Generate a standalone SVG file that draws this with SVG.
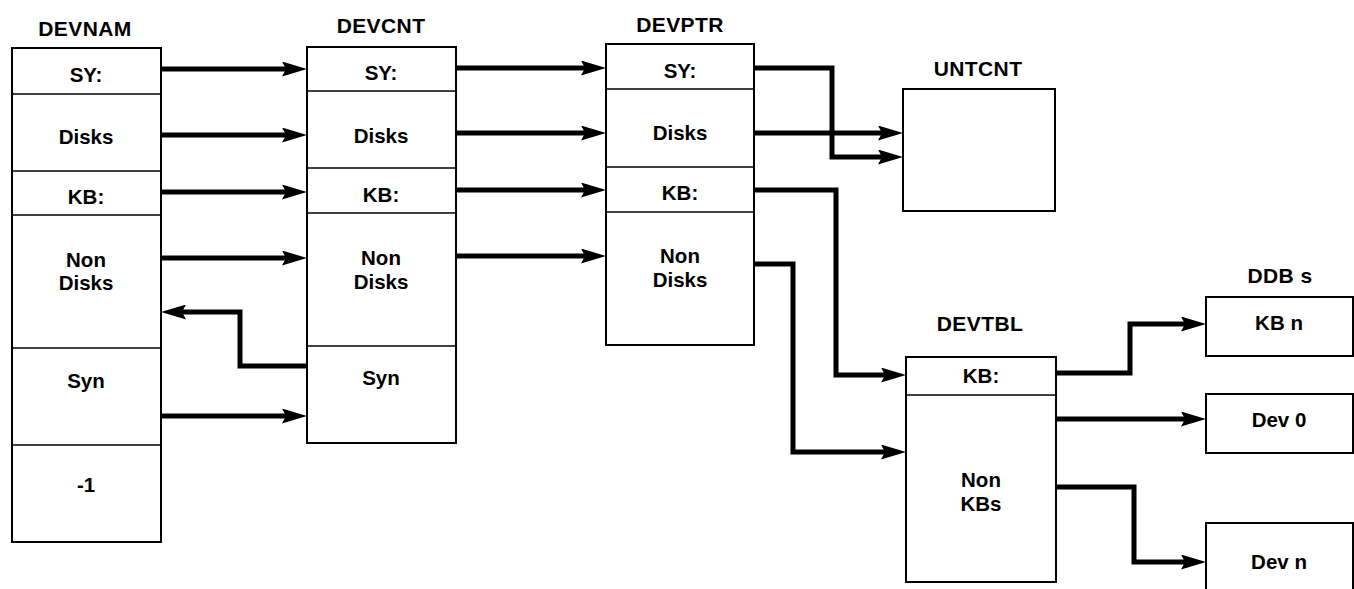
<svg xmlns="http://www.w3.org/2000/svg" width="1354" height="589" viewBox="0 0 1354 589">
  <style>
    .box { fill: #fff; stroke: #000; stroke-width: 2; }
    .sep { stroke: #000; stroke-width: 1.6; }
    .t { font-family: "Liberation Sans", Arial, Helvetica, sans-serif; font-weight: bold; font-size: 20.5px; fill: #000; text-anchor: middle; }
    .title { font-family: "Liberation Sans", Arial, Helvetica, sans-serif; font-weight: bold; font-size: 21px; fill: #000; text-anchor: middle; letter-spacing: 0.4px; }
    .link { fill: none; stroke: #000; stroke-width: 5; stroke-linejoin: miter; marker-end: url(#arrow); }
  </style>
  <defs>
    <marker id="arrow" markerUnits="userSpaceOnUse" viewBox="0 0 25 15" markerWidth="25" markerHeight="15" refX="13" refY="7.5" orient="auto">
      <path d="M0,0 L25,7.5 L0,15 L4,7.5 z" fill="#000"/>
    </marker>
  </defs>
  <rect width="1354" height="589" fill="#fff"/>

  <!-- DEVNAM table -->
  <g id="devnam">
    <text class="title" x="85" y="36">DEVNAM</text>
    <rect class="box" x="12" y="48" width="149" height="494"/>
    <line class="sep" x1="12" y1="94" x2="161" y2="94"/>
    <line class="sep" x1="12" y1="171" x2="161" y2="171"/>
    <line class="sep" x1="12" y1="215" x2="161" y2="215"/>
    <line class="sep" x1="12" y1="348" x2="161" y2="348"/>
    <line class="sep" x1="12" y1="445" x2="161" y2="445"/>
    <text class="t" x="86" y="82">SY:</text>
    <text class="t" x="86" y="144">Disks</text>
    <text class="t" x="86" y="204">KB:</text>
    <text class="t" x="86" y="267">Non</text>
    <text class="t" x="86" y="290">Disks</text>
    <text class="t" x="86" y="388">Syn</text>
    <text class="t" x="86" y="492">-1</text>
  </g>

  <!-- DEVCNT table -->
  <g id="devcnt">
    <text class="title" x="381" y="33">DEVCNT</text>
    <rect class="box" x="307" y="47" width="149" height="396"/>
    <line class="sep" x1="307" y1="91" x2="456" y2="91"/>
    <line class="sep" x1="307" y1="168" x2="456" y2="168"/>
    <line class="sep" x1="307" y1="213" x2="456" y2="213"/>
    <line class="sep" x1="307" y1="346" x2="456" y2="346"/>
    <text class="t" x="381" y="80">SY:</text>
    <text class="t" x="381" y="143">Disks</text>
    <text class="t" x="381" y="202">KB:</text>
    <text class="t" x="381" y="265">Non</text>
    <text class="t" x="381" y="289">Disks</text>
    <text class="t" x="381" y="385">Syn</text>
  </g>

  <!-- DEVPTR table -->
  <g id="devptr">
    <text class="title" x="680" y="32">DEVPTR</text>
    <rect class="box" x="606" y="44" width="148" height="301"/>
    <line class="sep" x1="606" y1="89" x2="754" y2="89"/>
    <line class="sep" x1="606" y1="167" x2="754" y2="167"/>
    <line class="sep" x1="606" y1="212" x2="754" y2="212"/>
    <text class="t" x="680" y="78">SY:</text>
    <text class="t" x="680" y="140">Disks</text>
    <text class="t" x="680" y="200">KB:</text>
    <text class="t" x="680" y="263">Non</text>
    <text class="t" x="680" y="287">Disks</text>
  </g>

  <!-- UNTCNT table -->
  <g id="untcnt">
    <text class="title" x="978" y="76">UNTCNT</text>
    <rect class="box" x="903" y="89" width="152" height="122"/>
  </g>

  <!-- DEVTBL table -->
  <g id="devtbl">
    <text class="title" x="980" y="331">DEVTBL</text>
    <rect class="box" x="906" y="357" width="150" height="225"/>
    <line class="sep" x1="906" y1="395" x2="1056" y2="395"/>
    <text class="t" x="981" y="383">KB:</text>
    <text class="t" x="981" y="487">Non</text>
    <text class="t" x="981" y="511">KBs</text>
  </g>

  <!-- Device data blocks -->
  <g id="ddbs">
    <text class="title" x="1280" y="283">DDB s</text>
  </g>
  <g id="ddb-kbn">
    <rect class="box" x="1206" y="297" width="147" height="59"/>
    <text class="t" x="1279" y="330">KB n</text>
  </g>
  <g id="ddb-dev0">
    <rect class="box" x="1206" y="394" width="147" height="59"/>
    <text class="t" x="1279" y="427">Dev 0</text>
  </g>
  <g id="ddb-devn">
    <rect class="box" x="1206" y="523" width="147" height="80"/>
    <text class="t" x="1279" y="569">Dev n</text>
  </g>

  <!-- Pointer links -->
  <g id="connectors">
    <path class="link" d="M161,69 H295"/>
    <path class="link" d="M161,135 H295"/>
    <path class="link" d="M161,192 H295"/>
    <path class="link" d="M161,258 H295"/>
    <path class="link" d="M307,366 H240 V312 H173"/>
    <path class="link" d="M161,416 H295"/>

    <path class="link" d="M456,68 H594"/>
    <path class="link" d="M456,133 H594"/>
    <path class="link" d="M456,190 H594"/>
    <path class="link" d="M456,256 H594"/>

    <path class="link" d="M754,68 H832 V157 H891"/>
    <path class="link" d="M754,133 H891"/>
    <path class="link" d="M754,190 H836 V375 H894"/>
    <path class="link" d="M754,264 H793 V452 H894"/>

    <path class="link" d="M1056,373 H1130 V324 H1194"/>
    <path class="link" d="M1056,419 H1194"/>
    <path class="link" d="M1056,487 H1134 V562 H1194"/>
  </g>
</svg>
